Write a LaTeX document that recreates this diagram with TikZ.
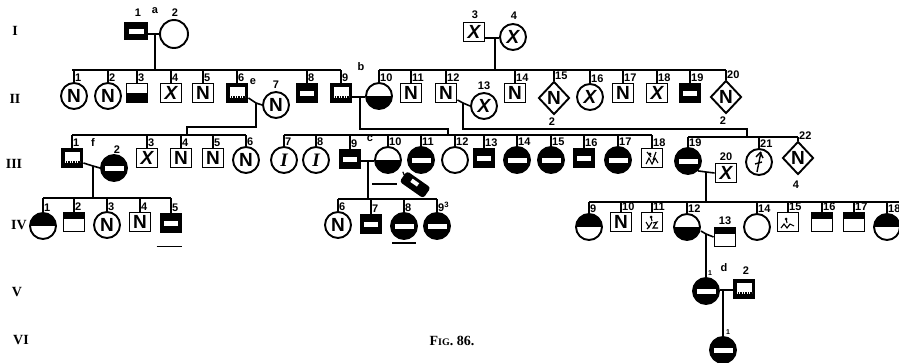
\documentclass[tikz,border=0pt]{standalone}
\usepackage{fontspec}
\setmainfont{Liberation Serif}
\setsansfont{Liberation Sans}
\usetikzlibrary{shapes.geometric}
\newcommand\numf{\fontsize{11}{11}\selectfont\sffamily\bfseries}
\newcommand\symf{\fontsize{19}{19}\selectfont\sffamily\bfseries}
\newcommand\genf{\fontsize{14}{14}\selectfont\rmfamily\bfseries}
\newcommand\kdrop[2]{\draw[ln] (#1.north) -- (#1.north |- #2);}
\newcommand\klab[2]{\node[num] at ([xshift=1pt,yshift=0.5pt]#1.north) {#2};}
\tikzset{
  ln/.style={line width=1.6pt},
  sym/.style={draw, line width=1.9pt, inner sep=0pt, font=\symf},
  sq/.style={sym, rectangle, minimum width=21pt, minimum height=19pt},
  ci/.style={sym, circle, minimum size=26pt},
  dm/.style={sym, diamond, minimum width=31pt, minimum height=33pt},
  lowhalf/.style={path picture={\fill (path picture bounding box.south west) rectangle (path picture bounding box.east);}},
  uphalf/.style={path picture={\fill (path picture bounding box.north west) rectangle (path picture bounding box.east);}},
  topblk/.style={path picture={\fill (path picture bounding box.north west) rectangle ([yshift=3pt]path picture bounding box.east);}},
  band/.style={fill=black, path picture={\fill[white] ([xshift=3.5pt,yshift=2pt]path picture bounding box.west) rectangle ([xshift=-3.5pt,yshift=-2.5pt]path picture bounding box.east);}},
  dband/.style={fill=black, path picture={\fill[white] ([xshift=3pt,yshift=6pt]path picture bounding box.west) rectangle ([xshift=-3pt,yshift=-3pt]path picture bounding box.east);
     \draw[white,line width=1.3pt,dash pattern=on 1.3pt off 1.2pt] ([xshift=3pt,yshift=-4pt]path picture bounding box.west) -- ([xshift=-3pt,yshift=-4pt]path picture bounding box.east);}},
  num/.style={font=\numf, inner sep=0pt, anchor=south west},
  lett/.style={font=\numf, inner sep=0pt},
  gen/.style={font=\genf, inner sep=0pt},
  bar/.style={line width=1.8pt},
  scrib/.style={line width=1.1pt},
}
\begin{document}
\begin{tikzpicture}[x=1pt,y=-1pt]
\useasboundingbox (0,0) rectangle (899,362);

% generation labels
\node[gen] (gI)   at (15,31)  {I};
\node[gen] (gII)  at (15,99)  {II};
\node[gen] (gIII) at (14,164) {III};
\node[gen] (gIV)  at (19,225) {IV};
\node[gen] (gV)   at (17,292) {V};
\node[gen] (gVI)  at (21,340) {VI};
\node[font=\fontsize{14}{14}\selectfont\rmfamily\bfseries, inner sep=0pt] (fig) at (452,341) {F{\fontsize{10}{10}\selectfont IG}. 86.};

% level coordinates
\coordinate (yII) at (0,70);
\coordinate (yIIIa) at (0,135);
\coordinate (yIIIb) at (0,135);
\coordinate (yIIIc) at (0,137);
\coordinate (yIVa) at (0,198);
\coordinate (yIVb) at (0,199);
\coordinate (yIVc) at (0,202);

% Generation I
\node[sq,band,minimum height=16pt,minimum width=22pt] (I1) at (136,31) {};
\node[ci,minimum size=28pt] (I2) at (174,34) {};
\node[sq] (I3) at (474,32) {\itshape X};
\node[ci] (I4) at (513,37) {\itshape X};

% Generation II
\node[ci] (II1) at (74,96) {N};
\node[ci] (II2) at (108,96) {N};
\node[sq,lowhalf] (II3) at (137,93) {};
\node[sq] (II4) at (171,93) {\itshape X};
\node[sq] (II5) at (203,93) {N};
\node[sq,dband] (II6) at (237,93) {};
\node[ci] (II7) at (276,105) {N};
\node[sq,band] (II8) at (307,93) {};
\node[sq,dband] (II9) at (341,93) {};
\node[ci,lowhalf] (II10) at (379,96) {};
\node[sq] (II11) at (411,93) {N};
\node[sq] (II12) at (446,93) {N};
\node[ci] (II13) at (484,106) {\itshape X};
\node[sq] (II14) at (515,93) {N};
\node[dm] (II15) at (554,98) {N};
\node[ci] (II16) at (590,97) {\itshape X};
\node[sq] (II17) at (623,93) {N};
\node[sq] (II18) at (657,93) {\itshape X};
\node[sq,band] (II19) at (690,93) {};
\node[dm] (II20) at (726,97) {N};

% Generation III
\node[sq,dband] (III1) at (72,158) {};
\node[ci,band] (III2) at (114,168) {};
\node[sq] (III3) at (147,158) {\itshape X};
\node[sq] (III4) at (181,158) {N};
\node[sq] (III5) at (213,158) {N};
\node[ci] (III6) at (246,160) {N};
\node[ci] (III7) at (284,160) {\rmfamily\itshape I};
\node[ci] (III8) at (316,160) {\rmfamily\itshape I};
\node[sq,band] (III9) at (350,159) {};
\node[ci,lowhalf] (III10) at (388,160) {};
\node[ci,band] (III11) at (421,160) {};
\node[ci] (III12) at (455,160) {};
\node[sq,band] (III13) at (484,158) {};
\node[ci,band] (III14) at (517,160) {};
\node[ci,band] (III15) at (551,160) {};
\node[sq,band] (III16) at (584,158) {};
\node[ci,band] (III17) at (618,160) {};
\node[sq] (III18) at (652,158) {};
\node[ci,band] (III19) at (688,161) {};
\node[sq] (III20) at (726,173) {\itshape X};
\node[ci] (III21) at (759,162) {};
\node[dm] (III22) at (798,158) {N};

% Generation IV
\node[ci,uphalf] (IV1) at (43,226) {};
\node[sq,topblk] (IV2) at (74,222) {};
\node[ci] (IV3) at (107,225) {N};
\node[sq] (IV4) at (140,222) {N};
\node[sq,band] (IV5) at (171,223) {};
\node[ci] (IV6) at (338,225) {N};
\node[sq,band] (IV7) at (371,224) {};
\node[ci,band] (IV8) at (404,226) {};
\node[ci,band] (IV9) at (437,226) {};
\node[ci,uphalf] (IV9r) at (589,227) {};
\node[sq] (IV10) at (621,222) {N};
\node[sq] (IV11) at (652,222) {};
\node[ci,lowhalf] (IV12) at (687,227) {};
\node[sq,topblk] (IV13) at (725,237) {};
\node[ci] (IV14) at (757,227) {};
\node[sq] (IV15) at (788,222) {};
\node[sq,topblk] (IV16) at (822,222) {};
\node[sq,topblk] (IV17) at (854,222) {};
\node[ci,uphalf] (IV18) at (887,227) {};

% Generation V, VI
\node[ci,band] (V1) at (706,291) {};
\node[sq,dband] (V2) at (744,289) {};
\node[ci,band] (VI1) at (723,350) {};

% scribbles inside symbols
\begin{scope}[shift={(III18.center)}, scrib]
  \draw (-6,6) -- (-3,0) -- (0,6) -- (3,0) -- (6,5);
  \draw (-5,-6) -- (-1,-1);
  \fill (-2,-4) circle (1.6);
  \draw (4,-6) -- (1,2);
\end{scope}
\begin{scope}[shift={(IV11.center)}, scrib]
  \draw (-6,0) -- (-3,5) -- (0,0);
  \draw (-3,5) -- (-5,7);
  \draw (1,1) -- (5,0) -- (1,6) -- (6,6);
  \fill (-1,-5) circle (1.5);
  \draw (-1,-5) -- (0,-1);
\end{scope}
\begin{scope}[shift={(IV15.center)}, scrib]
  \draw (-7,6) -- (-4,2) -- (-1,6) -- (2,2) -- (6,4);
  \fill (-2,-3) circle (1.5);
  \draw (-2,-3) -- (-1,1);
\end{scope}
\begin{scope}[shift={(III21.center)}, line width=1.4pt]
  \draw (2,-10) -- (-2,10);
  \draw (-3,-5) -- (1.3,-9.5) -- (4,-4);
  \draw (-4,2) -- (3,0);
\end{scope}

% odd blot beside III-10
\begin{scope}[rotate around={-35:(415,184)}]
  \fill[rounded corners=3pt] (401,178) rectangle (430,191);
  \fill[white] (410,181) rectangle (418,185);
  \draw[line width=1.2pt] (398,181) -- (403,184);
\end{scope}

% Generation I -> II
\coordinate (mI1) at (155,34);
\draw[ln] (I1.east |- mI1) -- (I2.west |- mI1);
\draw[ln] (mI1) -- (mI1 |- yII);
\coordinate (mI3) at (495,38);
\draw[ln] (I3.east |- mI3) -- (I4.west |- mI3);
\draw[ln] (mI3) -- (mI3 |- yII);
\draw[ln] ([xshift=-2pt]II1.north |- yII) -- (II9.north |- yII);
\draw[ln] (II10.north |- yII) -- (II20.north |- yII);
\foreach \n in {II1,II2,II3,II4,II5,II6,II8,II9,II10,II11,II12,II14,II15,II16,II17,II18,II19,II20} {\kdrop{\n}{yII}}

% II-6 x II-7
\coordinate (mII6) at (256,103);
\coordinate (jII6) at (187,127);
\draw[ln] ([yshift=-5pt]II6.east) -- (mII6) -- (II7.west);
\draw[ln] (mII6) |- (jII6) -- (jII6 |- yIIIa);
% II-9 x II-10
\coordinate (mII9) at (360,97);
\coordinate (jII9) at (448,129);
\draw[ln] (II9.east |- mII9) -- (II10.west |- mII9);
\draw[ln] (mII9) |- (jII9) -- (jII9 |- yIIIb);
% II-12 x II-13
\coordinate (mII12) at (463,103);
\coordinate (jII12) at (747,129);
\draw[ln] ([yshift=-7pt]II12.east) -- (mII12) -- (II13.west);
\draw[ln] (mII12) |- (jII12) -- (jII12 |- yIIIc);

% Generation III sibships
\draw[ln] (III1.north |- yIIIa) -- (III6.north |- yIIIa);
\draw[ln] (III7.north |- yIIIb) -- (III18.north |- yIIIb);
\draw[ln] (III19.north |- yIIIc) -- (III22.north |- yIIIc);
\foreach \n in {III1,III3,III4,III5,III6} {\kdrop{\n}{yIIIa}}
\foreach \n in {III7,III8,III9,III10,III11,III12,III13,III14,III15,III16,III17,III18} {\kdrop{\n}{yIIIb}}
\foreach \n in {III19,III21,III22} {\kdrop{\n}{yIIIc}}

% III-1 x III-2
\coordinate (mIII1) at (93,166);
\draw[ln] ([yshift=-5pt]III1.east) -- (mIII1) -- (III2.west);
\draw[ln] (mIII1) -- (mIII1 |- yIVa);
% III-9 x III-10
\coordinate (mIII9) at (368,161);
\draw[ln] (III9.east |- mIII9) -- (III10.west |- mIII9);
\draw[ln] (mIII9) -- (mIII9 |- yIVb);
% III-19 x III-20
\coordinate (mIII19) at (706,172);
\draw[ln] (III19.south east) -- (mIII19) -- (III20.west);
\draw[ln] (mIII19) -- (mIII19 |- yIVc);

% Generation IV sibships
\draw[ln] (IV1.north |- yIVa) -- (IV5.north |- yIVa);
\draw[ln] (IV6.north |- yIVb) -- (IV9.north |- yIVb);
\draw[ln] (IV9r.north |- yIVc) -- ([xshift=12pt]IV18.north |- yIVc);
\foreach \n in {IV1,IV2,IV3,IV4,IV5} {\kdrop{\n}{yIVa}}
\foreach \n in {IV6,IV7,IV8,IV9} {\kdrop{\n}{yIVb}}
\foreach \n in {IV9r,IV10,IV11,IV12,IV14,IV15,IV16,IV17,IV18} {\kdrop{\n}{yIVc}}

% IV-12 x IV-13
\coordinate (mIV12) at (706,234);
\draw[ln] ([yshift=-4pt]IV12.east) -- (mIV12) -- (IV13.west);
\draw[ln] (mIV12) -- (V1.north);
% V-1 x V-2
\coordinate (mV1) at (723,290);
\draw[ln] (V1.east |- mV1) -- (V2.west |- mV1);
\draw[ln] (mV1) -- (VI1.north);

% underline bars
\draw[bar] ([xshift=-3pt,yshift=-13pt]IV5.south west) -- ([yshift=-13pt]IV5.south east);
\draw[bar] ([xshift=-2pt,yshift=-7pt]IV8.south west) -- ([xshift=2pt,yshift=-7pt]IV8.south east);
\draw[bar] ([xshift=-16pt,yshift=-10pt]III10.south) -- ([xshift=9pt,yshift=-10pt]III10.south);

% number labels
\node[lett] (lI1) at (138,13) {1};
\node[lett] (la) at (155,11) {a};
\node[lett] (lI2) at (175,13) {2};
\node[lett] (lI3) at (475,15) {3};
\node[lett] (lI4) at (514,16) {4};
\klab{II1}{1}\klab{II2}{2}\klab{II3}{3}\klab{II4}{4}\klab{II5}{5}\klab{II6}{6}
\klab{II8}{8}\klab{II9}{9}\klab{II10}{10}\klab{II11}{11}\klab{II12}{12}\klab{II14}{14}
\klab{II15}{15}\klab{II16}{16}\klab{II17}{17}\klab{II18}{18}\klab{II19}{19}\klab{II20}{20}
\node[lett] (le) at (253,82) {e};
\node[lett, anchor=south] (lII7) at ([yshift=2pt]II7.north) {7};
\node[lett, anchor=south] (lII13) at ([yshift=2pt]II13.north) {13};
\node[lett] (lb) at (361,67) {b};
\node[lett] (l2a) at (552,122) {2};
\node[lett] (l2b) at (723,121) {2};
\klab{III1}{1}\klab{III3}{3}\klab{III4}{4}\klab{III5}{5}\klab{III6}{6}
\klab{III7}{7}\klab{III8}{8}\klab{III9}{9}\klab{III10}{10}\klab{III11}{11}\klab{III12}{12}
\klab{III13}{13}\klab{III14}{14}\klab{III15}{15}\klab{III16}{16}\klab{III17}{17}\klab{III18}{18}
\klab{III19}{19}\klab{III21}{21}\klab{III22}{22}
\node[lett] (lf) at (93,143) {f};
\node[lett] (lIII2) at (117,150) {2};
\node[lett] (lc) at (370,139) {c};
\node[lett, anchor=south] (lIII20) at ([yshift=2pt]III20.north) {20};
\node[lett] (l4) at (796,185) {4};
\klab{IV1}{1}\klab{IV2}{2}\klab{IV3}{3}\klab{IV4}{4}\klab{IV5}{5}
\klab{IV6}{6}\klab{IV7}{7}\klab{IV8}{8}\klab{IV9}{9\textsuperscript{3}}
\klab{IV9r}{9}\klab{IV10}{10}\klab{IV11}{11}\klab{IV12}{12}\klab{IV14}{14}
\klab{IV15}{15}\klab{IV16}{16}\klab{IV17}{17}\klab{IV18}{18}
\node[lett, anchor=south] (lIV13) at ([yshift=2pt]IV13.north) {13};
\node[lett,font=\fontsize{7}{7}\selectfont\sffamily\bfseries] (lV1) at (710,273) {1};
\node[lett] (ld) at (724,268) {d};
\node[lett] (lV2) at (746,271) {2};
\node[lett,font=\fontsize{7}{7}\selectfont\sffamily\bfseries] (lVI1) at (728,332) {1};
\end{tikzpicture}
\end{document}
